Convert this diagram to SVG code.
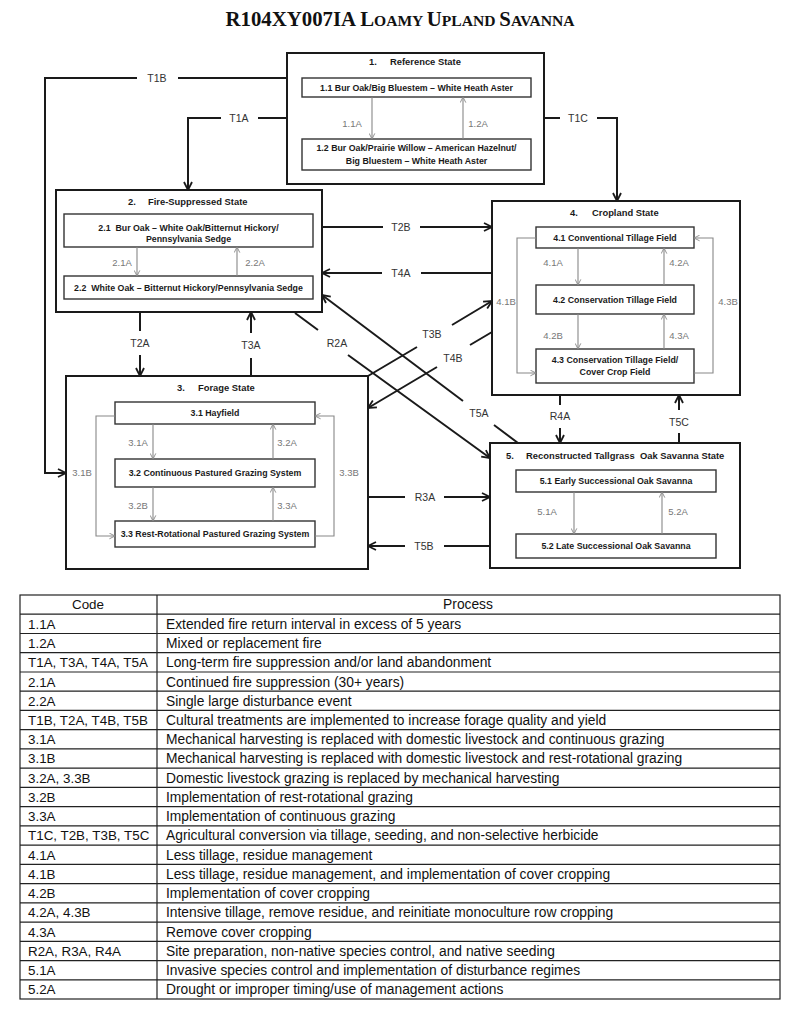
<svg xmlns="http://www.w3.org/2000/svg" width="800" height="1017" viewBox="0 0 800 1017">
<style>
.state{fill:#fff;stroke:#1a1a1a;stroke-width:2}
.sub{fill:#fff;stroke:#333;stroke-width:1.4}
.st{font-family:'Liberation Sans',Arial,sans-serif;font-weight:bold;font-size:9.4px;fill:#1a1a1a}
.sb{font-family:'Liberation Sans',Arial,sans-serif;font-weight:bold;font-size:8.8px;fill:#1a1a1a;text-anchor:middle}
.conn{fill:none;stroke:#1a1a1a;stroke-width:2;marker-end:url(#ah)}
.inner{fill:none;stroke:#888;stroke-width:1.1;marker-end:url(#ahs)}
.cl{font-family:'Liberation Sans',Arial,sans-serif;font-size:10.5px;fill:#333;text-anchor:middle}
.il{font-family:'Liberation Sans',Arial,sans-serif;font-size:9.5px;fill:#777;text-anchor:middle}
.tb{font-family:'Liberation Sans',Arial,sans-serif;font-size:13.8px;fill:#111}
.tc{font-family:'Liberation Sans',Arial,sans-serif;font-size:13.4px;fill:#111}
.tl{stroke:#222;stroke-width:1.2;fill:none}
.title{font-family:'Liberation Serif','Times New Roman',serif;font-weight:bold;fill:#111}
</style>
<defs>
<marker id="ah" viewBox="0 0 10 10" refX="9" refY="5" markerWidth="10" markerHeight="10" markerUnits="userSpaceOnUse" orient="auto"><path d="M1,1 L9,5 L1,9" fill="none" stroke="#1a1a1a" stroke-width="1.8"/></marker>
<marker id="ahs" viewBox="0 0 10 10" refX="9" refY="5" markerWidth="7" markerHeight="7" markerUnits="userSpaceOnUse" orient="auto"><path d="M1,1 L9,5 L1,9" fill="none" stroke="#888" stroke-width="1.3"/></marker>
</defs>
<rect width="800" height="1017" fill="#fff"/>
<text class="title" x="400" y="26" text-anchor="middle"><tspan font-size="20.8">R104XY007IA L</tspan><tspan font-size="15.6">OAMY </tspan><tspan font-size="20.8">U</tspan><tspan font-size="15.6">PLAND </tspan><tspan font-size="20.8">S</tspan><tspan font-size="15.6">AVANNA</tspan></text>

<g id="state1">
<rect class="state" x="287" y="53" width="257" height="131"/>
<text class="st"><tspan x="369" y="65">1.</tspan><tspan x="390" y="65">Reference State</tspan></text>
<rect class="sub" x="302" y="78" width="229" height="19"/>
<text class="sb" x="416.5" y="90.5">1.1 Bur Oak/Big Bluestem – White Heath Aster</text>
<rect class="sub" x="302" y="139" width="229" height="31"/>
<text class="sb" x="416.5" y="151">1.2 Bur Oak/Prairie Willow – American Hazelnut/</text>
<text class="sb" x="416.5" y="164">Big Bluestem – White Heath Aster</text>
<path class="inner" d="M372,97 V139"/>
<path class="inner" d="M463,139 V97"/>
<text class="il" x="352" y="127">1.1A</text>
<text class="il" x="478" y="127">1.2A</text>
</g>

<g id="state2">
<rect class="state" x="56" y="190" width="266" height="122"/>
<text class="st"><tspan x="128" y="205">2.</tspan><tspan x="148" y="205">Fire-Suppressed State</tspan></text>
<rect class="sub" x="64" y="214" width="249" height="33"/>
<text class="sb" x="188.5" y="231" xml:space="preserve">2.1  Bur Oak – White Oak/Bitternut Hickory/</text>
<text class="sb" x="188.5" y="242">Pennsylvania Sedge</text>
<rect class="sub" x="64" y="276" width="249" height="23"/>
<text class="sb" x="188.5" y="291" xml:space="preserve">2.2  White Oak – Bitternut Hickory/Pennsylvania Sedge</text>
<path class="inner" d="M137,247 V276"/>
<path class="inner" d="M237,276 V247"/>
<text class="il" x="122" y="266">2.1A</text>
<text class="il" x="255" y="266">2.2A</text>
</g>

<g id="state3">
<rect class="state" x="66" y="376" width="302" height="193"/>
<text class="st"><tspan x="177" y="391">3.</tspan><tspan x="198" y="391">Forage State</tspan></text>
<rect class="sub" x="115" y="402" width="200" height="22"/>
<text class="sb" x="215" y="416">3.1 Hayfield</text>
<rect class="sub" x="115" y="459" width="200" height="28"/>
<text class="sb" x="215" y="476">3.2 Continuous Pastured Grazing System</text>
<rect class="sub" x="115" y="521" width="200" height="26"/>
<text class="sb" x="215" y="537">3.3 Rest-Rotational Pastured Grazing System</text>
<path class="inner" d="M153,424 V459"/>
<path class="inner" d="M273,459 V424"/>
<path class="inner" d="M153,487 V521"/>
<path class="inner" d="M273,521 V487"/>
<path class="inner" d="M115,416 H96 V536 H115"/>
<path class="inner" d="M315,536 H334 V416 H315"/>
<text class="il" x="138" y="446">3.1A</text>
<text class="il" x="287" y="446">3.2A</text>
<text class="il" x="138" y="509">3.2B</text>
<text class="il" x="287" y="509">3.3A</text>
<text class="il" x="82" y="476">3.1B</text>
<text class="il" x="349" y="476">3.3B</text>
</g>

<g id="state4">
<rect class="state" x="492" y="201" width="248" height="194"/>
<text class="st"><tspan x="570" y="216">4.</tspan><tspan x="592" y="216">Cropland State</tspan></text>
<rect class="sub" x="536" y="227" width="158" height="21"/>
<text class="sb" x="615" y="240.5">4.1 Conventional Tillage Field</text>
<rect class="sub" x="536" y="285" width="158" height="29"/>
<text class="sb" x="615" y="302.5">4.2 Conservation Tillage Field</text>
<rect class="sub" x="536" y="349" width="158" height="34"/>
<text class="sb" x="615" y="363">4.3 Conservation Tillage Field/</text>
<text class="sb" x="615" y="375">Cover Crop Field</text>
<path class="inner" d="M578,248 V285"/>
<path class="inner" d="M664,285 V248"/>
<path class="inner" d="M578,314 V349"/>
<path class="inner" d="M664,349 V314"/>
<path class="inner" d="M536,238 H517 V373 H536"/>
<path class="inner" d="M694,373 H713 V238 H694"/>
<text class="il" x="553" y="266">4.1A</text>
<text class="il" x="679" y="266">4.2A</text>
<text class="il" x="553" y="339">4.2B</text>
<text class="il" x="679" y="339">4.3A</text>
<text class="il" x="506" y="305">4.1B</text>
<text class="il" x="728" y="305">4.3B</text>
</g>

<g id="state5">
<rect class="state" x="490" y="443" width="250" height="125"/>
<text class="st"><tspan x="506" y="459">5.</tspan><tspan x="526" y="459" xml:space="preserve">Reconstructed Tallgrass  Oak Savanna State</tspan></text>
<rect class="sub" x="516" y="470" width="200" height="22"/>
<text class="sb" x="616" y="484">5.1 Early Successional Oak Savanna</text>
<rect class="sub" x="516" y="534" width="200" height="24"/>
<text class="sb" x="616" y="549">5.2 Late Successional Oak Savanna</text>
<path class="inner" d="M574,492 V534"/>
<path class="inner" d="M662,534 V492"/>
<text class="il" x="547" y="515">5.1A</text>
<text class="il" x="678" y="515">5.2A</text>
</g>

<g id="connectors">
<path class="conn" d="M287,78 H178 M137,78 H45 V473 H66"/>
<text class="cl" x="157" y="82">T1B</text>
<path class="conn" d="M287,118 H258 M221,118 H188 V190"/>
<text class="cl" x="239" y="122">T1A</text>
<path class="conn" d="M544,118 H560 M597,118 H617 V201"/>
<text class="cl" x="578" y="122">T1C</text>
<path class="conn" d="M140,312 V331 M140,355 V376"/>
<text class="cl" x="140" y="347">T2A</text>
<path class="conn" d="M251,376 V358 M251,333 V312"/>
<text class="cl" x="251" y="349">T3A</text>
<path class="conn" d="M322,227 H383 M420,227 H492"/>
<text class="cl" x="401" y="231">T2B</text>
<path class="conn" d="M492,273 H421 M382,273 H322"/>
<text class="cl" x="401" y="277">T4A</text>
<path class="conn" d="M295,313 L318,330 M348,355 L490,458"/>
<text class="cl" x="337" y="347">R2A</text>
<path class="conn" d="M518,443 L494,425 M463,401 L322,295"/>
<text class="cl" x="479" y="417">T5A</text>
<path class="conn" d="M368,376 L417,347 M452,325 L492,301"/>
<text class="cl" x="432" y="338">T3B</text>
<path class="conn" d="M492,332 L470,345 M437,367 L368,408"/>
<text class="cl" x="453" y="362">T4B</text>
<path class="conn" d="M560,395 V405 M560,428 V443"/>
<text class="cl" x="560" y="420">R4A</text>
<path class="conn" d="M679,443 V433 M679,410 V395"/>
<text class="cl" x="679" y="426">T5C</text>
<path class="conn" d="M368,497 H405 M444,497 H490"/>
<text class="cl" x="425" y="501">R3A</text>
<path class="conn" d="M490,546 H444 M405,546 H368"/>
<text class="cl" x="424" y="550">T5B</text>
</g>

<g id="table">
<rect class="tl" x="20" y="595" width="760" height="404"/>
<path class="tl" d="M157,595 V999 M20,614.2 H780 M20,633.5 H780 M20,652.7 H780 M20,672 H780 M20,691.2 H780 M20,710.4 H780 M20,729.7 H780 M20,748.9 H780 M20,768.2 H780 M20,787.4 H780 M20,806.6 H780 M20,825.9 H780 M20,845.1 H780 M20,864.4 H780 M20,883.6 H780 M20,902.8 H780 M20,922.1 H780 M20,941.3 H780 M20,960.6 H780 M20,979.8 H780"/>
<text class="tc" x="88" y="609" text-anchor="middle">Code</text>
<text class="tb" x="468" y="609" text-anchor="middle">Process</text>
<text class="tc" x="28" y="628.7">1.1A</text><text class="tb" x="166" y="628.7">Extended fire return interval in excess of 5 years</text>
<text class="tc" x="28" y="648">1.2A</text><text class="tb" x="166" y="648">Mixed or replacement fire</text>
<text class="tc" x="28" y="667.2">T1A, T3A, T4A, T5A</text><text class="tb" x="166" y="667.2">Long-term fire suppression and/or land abandonment</text>
<text class="tc" x="28" y="686.5">2.1A</text><text class="tb" x="166" y="686.5">Continued fire suppression (30+ years)</text>
<text class="tc" x="28" y="705.7">2.2A</text><text class="tb" x="166" y="705.7">Single large disturbance event</text>
<text class="tc" x="28" y="724.9">T1B, T2A, T4B, T5B</text><text class="tb" x="166" y="724.9">Cultural treatments are implemented to increase forage quality and yield</text>
<text class="tc" x="28" y="744.2">3.1A</text><text class="tb" x="166" y="744.2">Mechanical harvesting is replaced with domestic livestock and continuous grazing</text>
<text class="tc" x="28" y="763.4">3.1B</text><text class="tb" x="166" y="763.4">Mechanical harvesting is replaced with domestic livestock and rest-rotational grazing</text>
<text class="tc" x="28" y="782.7">3.2A, 3.3B</text><text class="tb" x="166" y="782.7">Domestic livestock grazing is replaced by mechanical harvesting</text>
<text class="tc" x="28" y="801.9">3.2B</text><text class="tb" x="166" y="801.9">Implementation of rest-rotational grazing</text>
<text class="tc" x="28" y="821.1">3.3A</text><text class="tb" x="166" y="821.1">Implementation of continuous grazing</text>
<text class="tc" x="28" y="840.4">T1C, T2B, T3B, T5C</text><text class="tb" x="166" y="840.4">Agricultural conversion via tillage, seeding, and non-selective herbicide</text>
<text class="tc" x="28" y="859.6">4.1A</text><text class="tb" x="166" y="859.6">Less tillage, residue management</text>
<text class="tc" x="28" y="878.9">4.1B</text><text class="tb" x="166" y="878.9">Less tillage, residue management, and implementation of cover cropping</text>
<text class="tc" x="28" y="898.1">4.2B</text><text class="tb" x="166" y="898.1">Implementation of cover cropping</text>
<text class="tc" x="28" y="917.3">4.2A, 4.3B</text><text class="tb" x="166" y="917.3">Intensive tillage, remove residue, and reinitiate monoculture row cropping</text>
<text class="tc" x="28" y="936.6">4.3A</text><text class="tb" x="166" y="936.6">Remove cover cropping</text>
<text class="tc" x="28" y="955.8">R2A, R3A, R4A</text><text class="tb" x="166" y="955.8">Site preparation, non-native species control, and native seeding</text>
<text class="tc" x="28" y="975.1">5.1A</text><text class="tb" x="166" y="975.1">Invasive species control and implementation of disturbance regimes</text>
<text class="tc" x="28" y="994.3">5.2A</text><text class="tb" x="166" y="994.3">Drought or improper timing/use of management actions</text>
</g>
</svg>
